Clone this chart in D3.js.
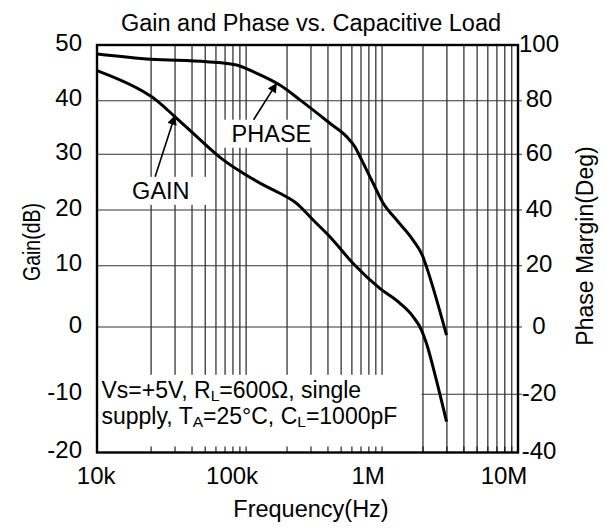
<!DOCTYPE html>
<html>
<head>
<meta charset="utf-8">
<script src="https://cdn.jsdelivr.net/npm/d3@7"></script>
<style>
  html, body { margin: 0; padding: 0; background: #fff; }
  svg { display: block; }
  text { font-family: "Liberation Sans", Arial, Helvetica, sans-serif; fill: #000; }
</style>
</head>
<body>
<svg id="chart" width="606" height="529"></svg>
<script>
// ---------------- data ----------------
const title = "Gain and Phase vs. Capacitive Load";
const xTitle = "Frequency(Hz)";
const yLeftTitle = "Gain(dB)";
const yRightTitle = "Phase Margin(Deg)";

const freqTicks = [1e4, 1e5, 1e6, 1e7];
const freqTickLabels = ["10k", "100k", "1M", "10M"];
const gainTicks = [-20, -10, 0, 10, 20, 30, 40, 50];
const phaseTicks = [-40, -20, 0, 20, 40, 60, 80, 100];

// GAIN curve (Hz, dB)
const gainFreq = [8000, 18500, 20200, 30000, 43300, 67900, 95200, 141500, 177000, 235000, 311000,
                  413000, 613000, 963000, 1350000, 1690000, 1950000, 2120000, 2510000, 2980000];
const gainDb   = [45.4, 41.3, 40.7, 37.0, 33.3, 29.0, 26.6, 24.2, 23.0, 21.2, 18.2,
                  15.2, 10.4, 6.3, 3.9, 1.7, -0.45, -2.4, -7.9, -14.7];

// PHASE curve (Hz, deg)
const phaseFreq = [8000, 20000, 51200, 85100, 112800, 177000, 249000, 413000, 548000, 631000,
                   707000, 860000, 1020000, 1280000, 1690000, 2000000, 2120000, 2980000];
const phaseDeg  = [96.8, 94.9, 94.0, 92.8, 90.4, 85.6, 80.3, 71.6, 66.6, 62.8,
                   58.0, 49.6, 42.4, 36.4, 29.2, 23.2, 19.7, -2.4];

// test-condition note: [text, isSubscript]
const noteLine1 = [["Vs=+5V, R", false], ["L", true], ["=600\u03A9, single", false]];
const noteLine2 = [["supply, T", false], ["A", true], ["=25\u00B0C, C", false], ["L", true], ["=1000pF", false]];

// curve labels (label anchor in Hz/dB, arrow tip on the curve)
const gainLabel  = { text: "GAIN",  f: 14500, v: 22.0, tipF: 30000,  tipV: 37.3, padL: 2, padR: 17 };
const phaseLabel = { text: "PHASE", f: 78200, v: 32.35, tipF: 168500, tipV: 86.4 / 2, padL: 9, padR: 2 };

// ---------------- layout ----------------
const L = 97, R = 518, T = 45, B = 452.5;
const svg = d3.select("#chart");

const x = d3.scaleLog().domain([8000, 1e7]).range([L, R]);
// the source grid is unevenly spaced: calibrate each horizontal gridline
const gridY = [452.5, 394.3, 327, 265.7, 210, 154.3, 100.7, 45];
const yG = d3.scaleLinear().domain(gainTicks).range(gridY);
const yP = d3.scaleLinear().domain(phaseTicks).range(gridY);

// ---------------- grid ----------------
const gridFreqs = x.ticks().filter(f => f >= 2e4 && f < 1e7);
const grid = svg.append("g");
grid.selectAll("line.v").data(gridFreqs).join("line")
  .attr("x1", d => x(d)).attr("x2", d => x(d))
  .attr("y1", T).attr("y2", B)
  .attr("stroke", "#111").attr("stroke-width", 1.1);
grid.selectAll("line.h").data(gainTicks.slice(1, -1)).join("line")
  .attr("x1", L).attr("x2", R + 4)
  .attr("y1", d => yG(d)).attr("y2", d => yG(d))
  .attr("stroke", "#333").attr("stroke-width", 1.1);

// ---------------- note box ----------------
svg.append("rect").attr("x", L + 1).attr("y", yG(-10) - 19.5)
  .attr("width", x(1.95e6) - L - 1).attr("height", B - yG(-10) + 19.5).attr("fill", "#fff");

// ---------------- curves ----------------
const line = d3.line().curve(d3.curveMonotoneX);
svg.append("path")
  .attr("d", line(gainFreq.map((f, i) => [x(f), yG(gainDb[i])])))
  .attr("fill", "none").attr("stroke", "#000").attr("stroke-width", 3);
svg.append("path")
  .attr("d", line(phaseFreq.map((f, i) => [x(f), yP(phaseDeg[i])])))
  .attr("fill", "none").attr("stroke", "#000").attr("stroke-width", 3);

// ---------------- labels with arrows ----------------
svg.append("defs").append("marker")
  .attr("id", "arr").attr("viewBox", "0 0 10 10").attr("refX", 10).attr("refY", 5)
  .attr("markerWidth", 6.5).attr("markerHeight", 6).attr("markerUnits", "strokeWidth")
  .attr("orient", "auto")
  .append("path").attr("d", "M0,0 L10,5 L0,10 Z").attr("fill", "#000");

function label(lbl, arrowDx) {
  const lx = x(lbl.f), ly = yG(lbl.v);
  const t = svg.append("text").attr("x", lx).attr("y", ly)
    .attr("font-size", 23.5).text(lbl.text);
  const bb = t.node().getBBox();
  svg.insert("rect", () => t.node())
    .attr("x", bb.x - lbl.padL).attr("y", bb.y - 1)
    .attr("width", bb.width + lbl.padL + lbl.padR).attr("height", bb.height + 2)
    .attr("fill", "#fff");
  svg.append("line")
    .attr("x1", lx + arrowDx).attr("y1", bb.y - 1)
    .attr("x2", x(lbl.tipF)).attr("y2", yG(lbl.tipV))
    .attr("stroke", "#000").attr("stroke-width", 1.6).attr("marker-end", "url(#arr)");
}
label(gainLabel, 23);
label(phaseLabel, 22);

// ---------------- note text (one text element, two lines) ----------------
const note = svg.append("text").attr("x", 101.5).attr("y", 398).attr("font-size", 23);
const SUB = 3;
function addLine(parts, first) {
  parts.forEach(([s, sub], i) => {
    const ts = note.append("tspan").text(s);
    let dy = 0;
    if (i === 0 && !first) { ts.attr("x", 101.5); dy += 26; }
    if (sub) { ts.attr("font-size", 15.5); dy += SUB; }
    else if (i > 0 && parts[i - 1][1]) dy -= SUB;
    if (dy) ts.attr("dy", dy);
  });
}
addLine(noteLine1, true);
addLine(noteLine2, false);

// ---------------- bottom minor ticks (visible inside note box) ----------------
svg.selectAll("line.mt").data(gridFreqs).join("line")
  .attr("x1", d => x(d)).attr("x2", d => x(d))
  .attr("y1", B).attr("y2", B - 6)
  .attr("stroke", "#111").attr("stroke-width", 1.1);

// ---------------- frame ----------------
svg.append("rect").attr("x", L).attr("y", T).attr("width", R - L).attr("height", B - T)
  .attr("fill", "none").attr("stroke", "#000").attr("stroke-width", 2.4);

// ---------------- axis labels ----------------
svg.selectAll("text.yl").data(gainTicks).join("text")
  .attr("x", 82).attr("y", d => yG(d) - 3).attr("dy", "0.36em")
  .attr("text-anchor", "end").attr("font-size", 24).text(d => d);
svg.selectAll("text.yr").data(phaseTicks).join("text")
  .attr("x", 539).attr("y", d => yP(d) - 2).attr("dy", "0.36em")
  .attr("text-anchor", "middle").attr("font-size", 24).text(d => d);
svg.selectAll("text.xl").data(freqTicks).join("text")
  .attr("x", d => x(d) - 14).attr("y", 484)
  .attr("text-anchor", "middle").attr("font-size", 24).text((d, i) => freqTickLabels[i]);

svg.append("text").attr("x", 311).attr("y", 31).attr("text-anchor", "middle")
  .attr("font-size", 23.5).text(title);
svg.append("text").attr("x", 311).attr("y", 517).attr("text-anchor", "middle")
  .attr("font-size", 23.5).text(xTitle);
svg.append("text").attr("transform", "translate(39.5,242) rotate(-90)")
  .attr("text-anchor", "middle").attr("font-size", 23)
  .attr("textLength", 78).attr("lengthAdjust", "spacingAndGlyphs").text(yLeftTitle);
svg.append("text").attr("transform", "translate(593,246) rotate(-90)")
  .attr("text-anchor", "middle").attr("font-size", 23).text(yRightTitle);
</script>
</body>
</html>
